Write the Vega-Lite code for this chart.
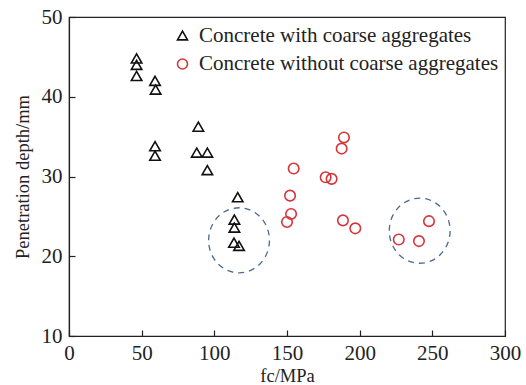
{
  "$schema": "https://vega.github.io/schema/vega-lite/v6.json",
  "width": 436,
  "height": 319,
  "autosize": {"type": "none"},
  "padding": {"left": 69, "top": 17, "right": 21, "bottom": 49},
  "background": "white",
  "config": {
    "font": "Liberation Serif",
    "view": {"stroke": "#222", "strokeWidth": 1.2},
    "axis": {
      "grid": false,
      "domainColor": "#222",
      "tickColor": "#222",
      "labelColor": "#222",
      "titleColor": "#222",
      "labelFont": "Liberation Serif",
      "titleFont": "Liberation Serif",
      "labelFontSize": 21,
      "labelFlush": false,
      "labelOverlap": false,
      "titleFontSize": 18.5,
      "titleFontWeight": "normal",
      "tickSize": -6,
      "tickWidth": 1.2,
      "domainWidth": 1.2
    }
  },
  "datasets": {
    "pts": [
      {"fc": 46.5, "depth": 44.8, "type": "Concrete with coarse aggregates"},
      {"fc": 46.5, "depth": 44.0, "type": "Concrete with coarse aggregates"},
      {"fc": 46.5, "depth": 42.6, "type": "Concrete with coarse aggregates"},
      {"fc": 59.2, "depth": 42.0, "type": "Concrete with coarse aggregates"},
      {"fc": 59.6, "depth": 40.9, "type": "Concrete with coarse aggregates"},
      {"fc": 89.0, "depth": 36.25, "type": "Concrete with coarse aggregates"},
      {"fc": 59.2, "depth": 33.8, "type": "Concrete with coarse aggregates"},
      {"fc": 59.2, "depth": 32.6, "type": "Concrete with coarse aggregates"},
      {"fc": 87.9, "depth": 33.0, "type": "Concrete with coarse aggregates"},
      {"fc": 95.2, "depth": 33.0, "type": "Concrete with coarse aggregates"},
      {"fc": 95.2, "depth": 30.8, "type": "Concrete with coarse aggregates"},
      {"fc": 116.1, "depth": 27.4, "type": "Concrete with coarse aggregates"},
      {"fc": 113.8, "depth": 24.6, "type": "Concrete with coarse aggregates"},
      {"fc": 113.8, "depth": 23.6, "type": "Concrete with coarse aggregates"},
      {"fc": 113.5, "depth": 21.7, "type": "Concrete with coarse aggregates"},
      {"fc": 117.0, "depth": 21.3, "type": "Concrete with coarse aggregates"},
      {"fc": 189.2, "depth": 34.9, "type": "Concrete without coarse aggregates"},
      {"fc": 187.6, "depth": 33.5, "type": "Concrete without coarse aggregates"},
      {"fc": 154.6, "depth": 31.0, "type": "Concrete without coarse aggregates"},
      {"fc": 176.6, "depth": 29.9, "type": "Concrete without coarse aggregates"},
      {"fc": 180.7, "depth": 29.7, "type": "Concrete without coarse aggregates"},
      {"fc": 152.1, "depth": 27.6, "type": "Concrete without coarse aggregates"},
      {"fc": 152.8, "depth": 25.3, "type": "Concrete without coarse aggregates"},
      {"fc": 150.0, "depth": 24.3, "type": "Concrete without coarse aggregates"},
      {"fc": 188.5, "depth": 24.5, "type": "Concrete without coarse aggregates"},
      {"fc": 197.0, "depth": 23.5, "type": "Concrete without coarse aggregates"},
      {"fc": 226.9, "depth": 22.1, "type": "Concrete without coarse aggregates"},
      {"fc": 240.8, "depth": 21.9, "type": "Concrete without coarse aggregates"},
      {"fc": 247.7, "depth": 24.4, "type": "Concrete without coarse aggregates"}
    ],
    "clusters": [
      {"fc": 117.0, "depth": 22.0},
      {"fc": 241.3, "depth": 23.2}
    ]
  },
  "layer": [
    {
      "data": {"name": "clusters"},
      "mark": {"type": "point", "shape": "M-1,0A1,1.07,0,1,1,1,0A1,1.07,0,1,1,-1,0Z", "size": 3700, "filled": false, "stroke": "#4d6a90", "strokeWidth": 1.3, "strokeDash": [6, 5], "opacity": 1},
      "encoding": {
        "x": {"field": "fc", "type": "quantitative"},
        "y": {"field": "depth", "type": "quantitative"}
      }
    },
    {
      "data": {"name": "pts"},
      "mark": {"type": "point", "filled": false, "strokeWidth": 1.6, "opacity": 1, "size": 110},
      "encoding": {
        "x": {
          "field": "fc", "type": "quantitative",
          "scale": {"domain": [0, 300], "nice": false},
          "axis": {"values": [0, 50, 100, 150, 200, 250, 300], "title": "fc/MPa", "labelPadding": 12, "titlePadding": 3}
        },
        "y": {
          "field": "depth", "type": "quantitative",
          "scale": {"domain": [10, 50], "nice": false, "zero": false},
          "axis": {"values": [10, 20, 30, 40, 50], "title": "Penetration depth/mm", "labelPadding": 13, "titlePadding": 9}
        },
        "shape": {
          "field": "type", "type": "nominal",
          "scale": {"domain": ["Concrete with coarse aggregates", "Concrete without coarse aggregates"], "range": ["triangle-up", "circle"]},
          "legend": {
            "title": null, "orient": "none", "legendX": 103, "legendY": 8,
            "labelFont": "Liberation Serif", "labelFontSize": 21, "labelColor": "#222", "labelLimit": 400,
            "symbolSize": 100, "symbolStrokeWidth": 1.6, "rowPadding": 6.5, "labelOffset": 6
          }
        },
        "stroke": {
          "field": "type", "type": "nominal",
          "scale": {"domain": ["Concrete with coarse aggregates", "Concrete without coarse aggregates"], "range": ["#111111", "#d6353a"]},
          "legend": null
        }
      }
    }
  ]
}
